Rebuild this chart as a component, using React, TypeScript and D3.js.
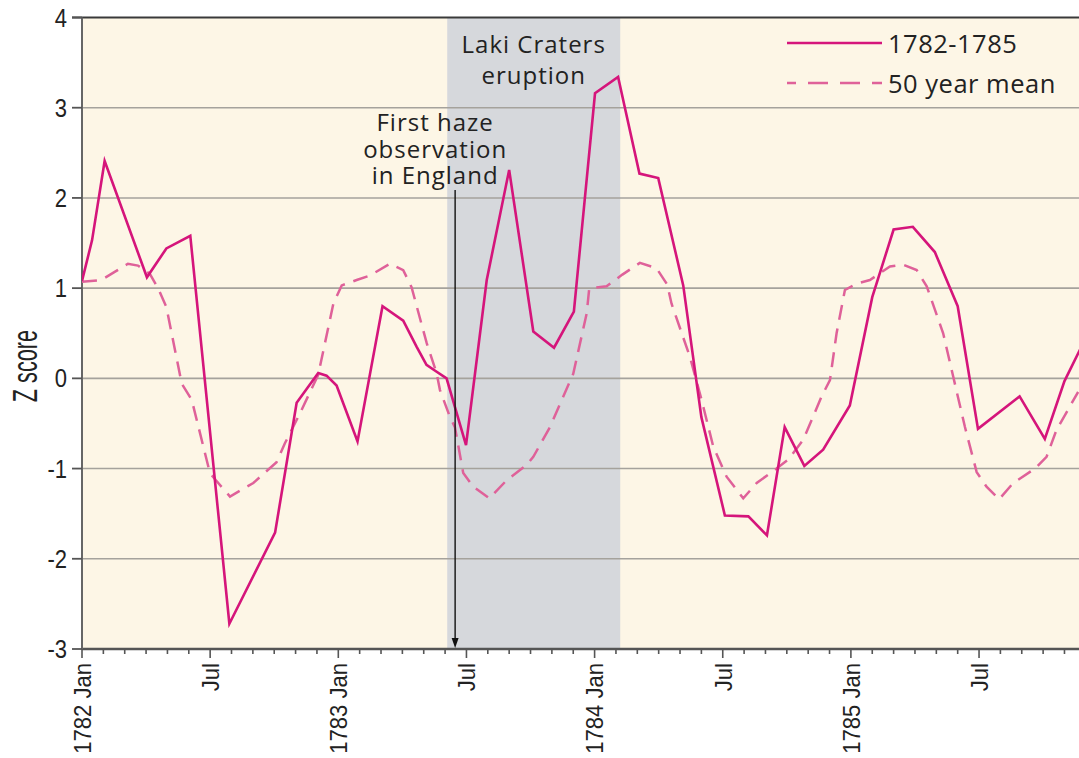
import React from "react";
import * as d3 from "d3";

// months counted from 1782 Jan (0 = Jan 1782)
const actualMonths = [
  0, 0.47, 1.06, 3.04, 3.95, 5.07, 6.9, 9.04, 10.05, 11.06, 11.45, 11.92, 12.9,
  14.07, 15.04, 15.67, 16.13, 16.5, 17.07, 17.98, 18.95, 20.0, 21.13, 22.1,
  23.03, 24.02, 25.1, 26.1, 26.98, 28.15, 29.0, 30.1, 31.2, 32.07, 32.9, 33.82,
  34.7, 35.95, 37.0, 38.0, 38.9, 39.93, 41.0, 41.95, 43.9, 45.08, 46.0, 47.0,
];
const actualValues = [
  1.08, 1.53, 2.41, 1.12, 1.44, 1.58, -2.72, -1.71, -0.27, 0.06, 0.03, -0.08,
  -0.7, 0.8, 0.64, 0.35, 0.15, 0.09, 0.0, -0.74, 1.09, 2.31, 0.52, 0.34, 0.74,
  3.16, 3.34, 2.27, 2.22, 1.03, -0.43, -1.52, -1.53, -1.74, -0.54, -0.97, -0.79,
  -0.3, 0.9, 1.65, 1.68, 1.4, 0.8, -0.56, -0.2, -0.67, -0.03, 0.45,
];

const meanMonths = [
  0, 0.9, 1.53, 2.15, 2.62, 3.17, 3.56, 3.95, 4.67, 5.14, 5.99, 6.27, 6.93,
  8.02, 9.11, 9.5, 10.2, 11.06, 11.77, 12.16, 12.86, 13.48, 14.42, 15.04, 15.43,
  16.14, 16.6, 16.76, 17.23, 17.46, 17.85, 18.32, 19.07, 19.88, 20.82, 21.13,
  21.91, 23.0, 23.63, 23.75, 24.56, 25.3, 26.12, 26.9, 27.4, 27.6, 28.46, 29.01,
  29.56, 30.18, 30.96, 31.59, 32.52, 33.07, 33.77, 34.63, 35.02, 35.33, 35.72,
  36.27, 36.89, 37.83, 38.45, 39.08, 39.55, 40.32, 40.79, 41.34, 41.89, 42.35,
  42.94, 43.6, 44.62, 45.16, 45.63, 46.64,
];
const meanValues = [
  1.07, 1.09, 1.18, 1.27, 1.25, 1.16, 1.0, 0.79, -0.06, -0.24, -1.05, -1.13,
  -1.31, -1.16, -0.93, -0.72, -0.39, 0.04, 0.83, 1.03, 1.09, 1.14, 1.27, 1.2,
  1.01, 0.39, 0.06, -0.13, -0.43, -0.54, -1.05, -1.2, -1.33, -1.13, -0.96, -0.87,
  -0.54, 0.05, 0.72, 1.0, 1.02, 1.15, 1.28, 1.22, 1.04, 0.83, 0.24, -0.24, -0.76,
  -1.09, -1.33, -1.16, -1.0, -0.9, -0.68, -0.2, -0.02, 0.5, 0.98, 1.05, 1.09,
  1.24, 1.26, 1.2, 1.02, 0.5, 0.02, -0.54, -1.04, -1.2, -1.34, -1.16, -1.0,
  -0.87, -0.57, -0.15,
];

const majorTickMonths = [0, 6, 12, 18, 24, 30, 36, 42];
const majorTickLabels = ["1782 Jan", "Jul", "1783 Jan", "Jul", "1784 Jan", "Jul", "1785 Jan", "Jul"];
const yTicks = [4, 3, 2, 1, 0, -1, -2, -3];

const eruptionStart = 17.1; // Laki Craters, June 1783
const eruptionEnd = 25.2; // Feb 1784
const hazeMonth = 17.47; // first haze observed in England

const seriesNames = ["1782-1785", "50 year mean"];
const hazeNote = ["First haze", "observation", "in England"];
const eruptionNote = ["Laki Craters", "eruption"];

const solidColor = "#d5157b";
const dashColor = "#df6199";
const tickFont = "'Liberation Sans', Arial, sans-serif";
const noteFont = "'Open Sans', 'Noto Sans', sans-serif";

export default function App() {
  const width = 1079;
  const height = 758;
  const left = 82;

  const x = d3.scaleLinear().domain([0, 46.68]).range([left, width]);
  const y = d3.scaleLinear().domain([-3, 4]).range([649, 17.5]);

  const line = d3
    .line<[number, number]>()
    .x((d) => x(d[0]))
    .y((d) => y(d[1]));

  const actual: [number, number][] = actualMonths.map((m, i) => [m, actualValues[i]]);
  const mean: [number, number][] = meanMonths.map((m, i) => [m, meanValues[i]]);

  const minorTicks = d3.range(0, 47);
  const hx = x(hazeMonth);
  const bandMid = (x(eruptionStart) + x(eruptionEnd)) / 2;

  return (
    <svg
      width={width}
      height={height}
      style={{ position: "absolute", left: 0, top: 0, background: "#ffffff" }}
    >
      <defs>
        <clipPath id="plot">
          <rect x={left} y={y(4)} width={width - left} height={y(-3) - y(4)} />
        </clipPath>
      </defs>

      {/* plot background and eruption band */}
      <rect x={left} y={y(4)} width={width - left} height={y(-3) - y(4)} fill="#fdf6e6" />
      <rect
        x={x(eruptionStart)}
        y={y(4)}
        width={x(eruptionEnd) - x(eruptionStart)}
        height={y(-3) - y(4)}
        fill="#d6d8dc"
      />

      {/* gridlines */}
      {yTicks
        .filter((t) => t !== 4 && t !== -3)
        .map((t) => (
          <line key={t} x1={left} x2={width} y1={y(t)} y2={y(t)} stroke="#a5a29c" strokeWidth={1.6} />
        ))}

      {/* frame */}
      <line x1={left - 10} x2={width} y1={y(4)} y2={y(4)} stroke="#3a3a3a" strokeWidth={1.8} />
      <line x1={left} x2={width} y1={y(-3)} y2={y(-3)} stroke="#555" strokeWidth={2.4} />
      <line x1={left} x2={left} y1={y(4)} y2={y(-3)} stroke="#666" strokeWidth={2} />

      {/* y ticks */}
      {yTicks.map((t) => (
        <g key={t}>
          <line x1={left - 10} x2={left} y1={y(t)} y2={y(t)} stroke="#555" strokeWidth={1.8} />
          <text
            transform={`translate(${left - 15},${y(t)}) scale(0.88,1)`}
            textAnchor="end"
            dy="0.36em"
            fontFamily={tickFont}
            fontSize={25}
            fill="#222"
          >
            {t}
          </text>
        </g>
      ))}

      {/* x ticks */}
      {minorTicks.map((m) => (
        <line
          key={m}
          x1={x(m)}
          x2={x(m)}
          y1={y(-3)}
          y2={y(-3) + (m % 6 === 0 ? 9 : 5)}
          stroke="#555"
          strokeWidth={1.6}
        />
      ))}
      {majorTickMonths.map((m, i) => (
        <text
          key={m}
          transform={`translate(${x(m)},${y(-3) + 14}) rotate(-90) scale(0.9,1)`}
          textAnchor="end"
          dy="0.36em"
          fontFamily={tickFont}
          fontSize={24.5}
          fill="#222"
        >
          {majorTickLabels[i]}
        </text>
      ))}

      {/* y axis title */}
      <text
        transform={`translate(37,366) rotate(-90) scale(0.62,1)`}
        textAnchor="middle"
        fontFamily={tickFont}
        fontSize={35}
        fill="#222"
      >
        Z score
      </text>

      {/* series */}
      <g clipPath="url(#plot)">
        <path
          d={line(mean) ?? ""}
          fill="none"
          stroke={dashColor}
          strokeWidth={2.5}
          strokeDasharray="15,9"
        />
        <path d={line(actual) ?? ""} fill="none" stroke={solidColor} strokeWidth={2.6} />
      </g>

      {/* haze arrow */}
      <line x1={hx} x2={hx} y1={190} y2={y(-3) - 8} stroke="#111" strokeWidth={1.4} />
      <path d={`M${hx - 3.5},${y(-3) - 11} L${hx + 3.5},${y(-3) - 11} L${hx},${y(-3) - 1} Z`} fill="#111" />
      {hazeNote.map((s, i) => (
        <text
          key={s}
          x={hx - 20}
          y={131 + i * 26.5}
          fontFamily={noteFont}
          fontSize={24}
          letterSpacing={1}
          fill="#222"
          textAnchor="middle"
        >
          {s}
        </text>
      ))}
      {eruptionNote.map((s, i) => (
        <text
          key={s}
          x={bandMid}
          y={53 + i * 31}
          fontFamily={noteFont}
          fontSize={24}
          letterSpacing={1}
          fill="#222"
          textAnchor="middle"
        >
          {s}
        </text>
      ))}

      {/* legend */}
      <line x1={787} x2={882} y1={43} y2={43} stroke={solidColor} strokeWidth={2.6} />
      <line x1={787} x2={882} y1={83} y2={83} stroke={dashColor} strokeWidth={2.5} strokeDasharray="9,12,20,12,20,12,20" />
      <text x={888} y={53} fontFamily={noteFont} fontSize={25.5} letterSpacing={0.5} fill="#222">
        {seriesNames[0]}
      </text>
      <text x={888} y={93} fontFamily={noteFont} fontSize={25.5} letterSpacing={0.5} fill="#222">
        {seriesNames[1]}
      </text>
    </svg>
  );
}
